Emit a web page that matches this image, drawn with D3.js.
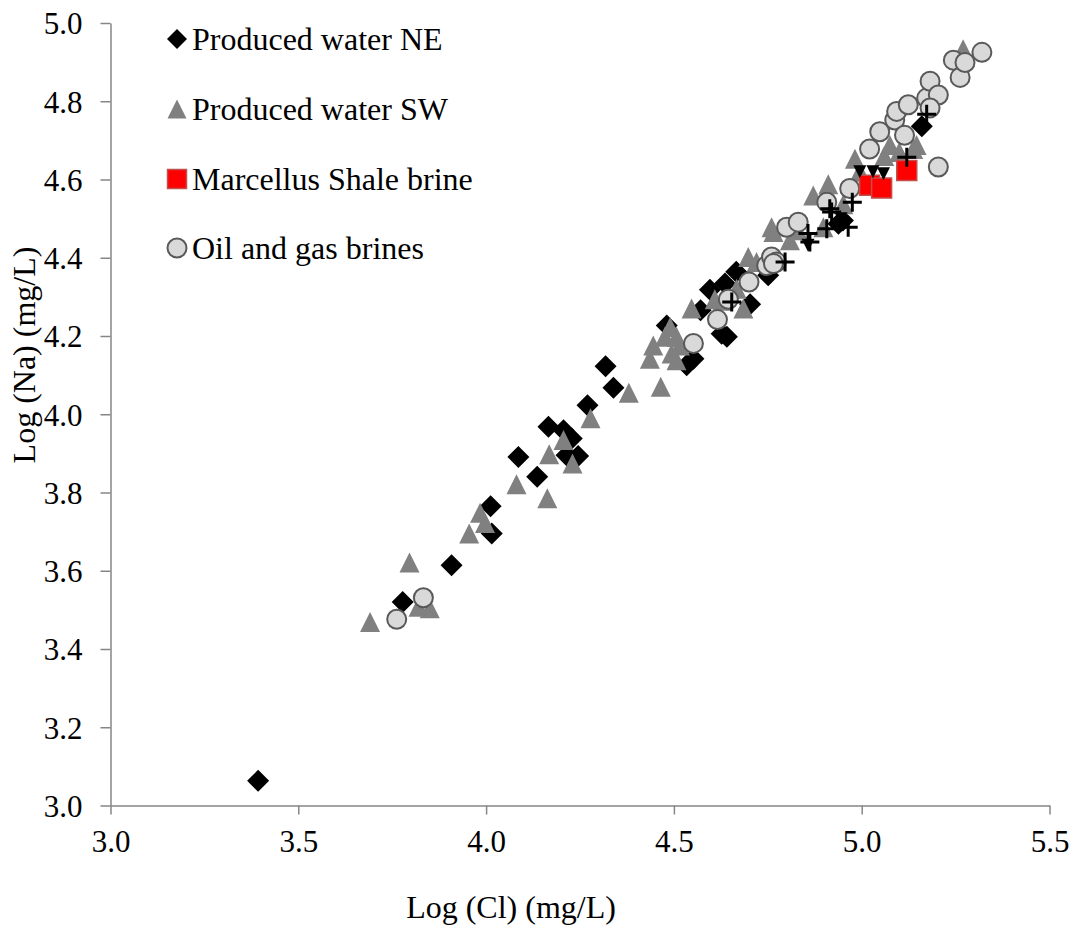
<!DOCTYPE html>
<html><head><meta charset="utf-8">
<script src="https://cdn.jsdelivr.net/npm/d3@7"></script>
<style>body{margin:0;background:#fff}svg{display:block}</style>
</head><body><svg id="c" width="1078" height="931"></svg>
<script>
// ---- data (log Cl, log Na) ----
const neX = [3.393,3.778,3.908,4.015,4.012,4.086,4.136,4.166,4.206,4.228,4.214,4.245,4.270,4.318,4.339,4.534,4.552,4.481,4.571,4.596,4.636,4.666,4.751,4.703,4.627,4.641,4.938,4.950,5.160];
const neY = [3.063,3.520,3.614,3.695,3.765,3.891,3.840,3.968,3.959,3.938,3.895,3.893,4.023,4.123,4.068,4.125,4.142,4.227,4.266,4.318,4.334,4.364,4.355,4.281,4.206,4.198,4.487,4.495,4.736];
const swX = [3.691,3.796,3.820,3.850,3.955,3.984,3.997,4.081,4.163,4.168,4.206,4.230,4.278,4.380,4.465,4.436,4.445,4.476,4.490,4.507,4.516,4.494,4.507,4.547,4.609,4.667,4.685,4.698,4.720,4.765,4.760,4.809,4.871,4.898,4.911,4.951,4.982,5.075,5.137,5.146,5.270,4.630,4.995,5.060,5.100,4.830];
const swY = [3.469,3.621,3.508,3.504,3.695,3.748,3.722,3.821,3.785,3.898,3.934,3.874,3.990,4.055,4.070,4.142,4.176,4.198,4.223,4.198,4.176,4.155,4.138,4.270,4.294,4.321,4.270,4.402,4.389,4.466,4.478,4.445,4.559,4.478,4.588,4.537,4.653,4.688,4.678,4.688,4.933,4.290,4.620,4.660,4.670,4.470];
const msX = [5.021,5.053,5.120];
const msY = [4.585,4.578,4.623];
const ogX = [3.762,3.833,4.552,4.616,4.645,4.700,4.747,4.760,4.773,4.765,4.800,4.831,4.907,4.968,5.021,5.048,5.088,5.093,5.114,5.124,5.173,5.182,5.204,5.182,5.204,5.244,5.262,5.275,5.320];
const ogY = [3.476,3.531,4.181,4.242,4.294,4.338,4.380,4.402,4.389,4.385,4.478,4.491,4.542,4.577,4.678,4.722,4.752,4.774,4.713,4.791,4.808,4.851,4.816,4.783,4.632,4.905,4.861,4.899,4.925];
const dtX = [4.857,4.995,5.030,5.058,4.945];
const dtY = [4.432,4.620,4.620,4.615,4.500];
const plX = [4.654,4.796,4.857,4.862,4.907,4.964,4.915,4.975,4.920,5.120,5.173];
const plY = [4.287,4.389,4.462,4.440,4.474,4.478,4.525,4.542,4.517,4.657,4.767];
const legendLabels = ["Produced water NE","Produced water SW","Marcellus Shale brine","Oil and gas brines"];
const xTicks = [3.0,3.5,4.0,4.5,5.0,5.5];
const yTicks = [3.0,3.2,3.4,3.6,3.8,4.0,4.2,4.4,4.6,4.8,5.0];

const FONT = "'Liberation Serif', 'Times New Roman', serif";
const svg = d3.select("#c");
const x = d3.scaleLinear().domain([3,5.5]).range([110.5,1049.5]);
const y = d3.scaleLinear().domain([3,5]).range([805.5,23]);
const axisColor = "#868686";

// axes
const gx = svg.append("g").attr("transform","translate(0,805.5)")
  .call(d3.axisBottom(x).tickValues(xTicks).tickFormat(d3.format(".1f")).tickSize(9).tickSizeOuter(0).tickPadding(8));
const gy = svg.append("g").attr("transform","translate(110.5,0)")
  .call(d3.axisLeft(y).tickValues(yTicks).tickFormat(d3.format(".1f")).tickSize(10).tickSizeOuter(0).tickPadding(18));
[gx,gy].forEach(g=>{
  g.selectAll("path,line").attr("stroke",axisColor).attr("stroke-width",1.5);
  g.selectAll("text").style("font-family",FONT).style("font-size","31px").attr("fill","#000");
});
gx.selectAll("text").attr("dy","0.95em");
gy.selectAll("text").attr("dy","0.35em");

svg.append("text").attr("x",511).attr("y",918).attr("text-anchor","middle")
  .style("font-family",FONT).style("font-size","32px").text("Log (Cl) (mg/L)");
svg.append("text").attr("transform","translate(35,355) rotate(-90)").attr("text-anchor","middle")
  .style("font-family",FONT).style("font-size","32px").text("Log (Na) (mg/L)");

// symbol types
const diamond = {draw(c,s){const r=Math.sqrt(s)/2;c.moveTo(0,-r);c.lineTo(r,0);c.lineTo(0,r);c.lineTo(-r,0);c.closePath();}};
const triUp = {draw(c,s){const r=Math.sqrt(s)/2;c.moveTo(0,-r);c.lineTo(r,r);c.lineTo(-r,r);c.closePath();}};
const triDown = {draw(c,s){const r=Math.sqrt(s)/2;c.moveTo(-r,-r);c.lineTo(r,-r);c.lineTo(0,r);c.closePath();}};
const square = {draw(c,s){const r=Math.sqrt(s)/2;c.rect(-r,-r,2*r,2*r);}};
const circle = {draw(c,s){const r=Math.sqrt(s)/2;c.moveTo(r,0);c.arc(0,0,r,0,2*Math.PI);}};
const plus = {draw(c,s){const r=Math.sqrt(s)/2;c.moveTo(-r,0);c.lineTo(r,0);c.moveTo(0,-r);c.lineTo(0,r);}};

function series(xs,ys,type,size,fill,stroke,sw){
  const pts = xs.map((v,i)=>[v,ys[i]]);
  svg.append("g").selectAll("path").data(pts).join("path")
    .attr("transform",d=>`translate(${x(d[0])},${y(d[1])})`)
    .attr("d",d3.symbol().type(type).size(size*size))
    .attr("fill",fill).attr("stroke",stroke).attr("stroke-width",sw);
}
series(neX,neY,diamond,22,"#000","none",0);
series(swX,swY,triUp,20,"#808080","none",0);
series(ogX,ogY,circle,19,"#d9d9d9","#595959",2);
series(msX,msY,square,20,"#ff0000","#c0504d",1.5);
series(dtX,dtY,triDown,13,"#000","none",0);
series(plX,plY,plus,19,"none","#000",3);

// legend
const lg = svg.append("g");
const ly = [39,109,179,248];
const lx = 177;
lg.append("path").attr("transform",`translate(${lx},${ly[0]})`).attr("d",d3.symbol().type(diamond).size(20*20)).attr("fill","#000");
lg.append("path").attr("transform",`translate(${lx},${ly[1]})`).attr("d",d3.symbol().type(triUp).size(19*19)).attr("fill","#808080");
lg.append("path").attr("transform",`translate(${lx},${ly[2]})`).attr("d",d3.symbol().type(square).size(19*19)).attr("fill","#ff0000").attr("stroke","#c0504d").attr("stroke-width",1.5);
lg.append("path").attr("transform",`translate(${lx},${ly[3]})`).attr("d",d3.symbol().type(circle).size(19*19)).attr("fill","#d9d9d9").attr("stroke","#595959").attr("stroke-width",2);
legendLabels.forEach((t,i)=>{
  lg.append("text").attr("x",192).attr("y",ly[i]).attr("dy","0.35em")
    .style("font-family",FONT).style("font-size","32px").text(t);
});
</script></body></html>
